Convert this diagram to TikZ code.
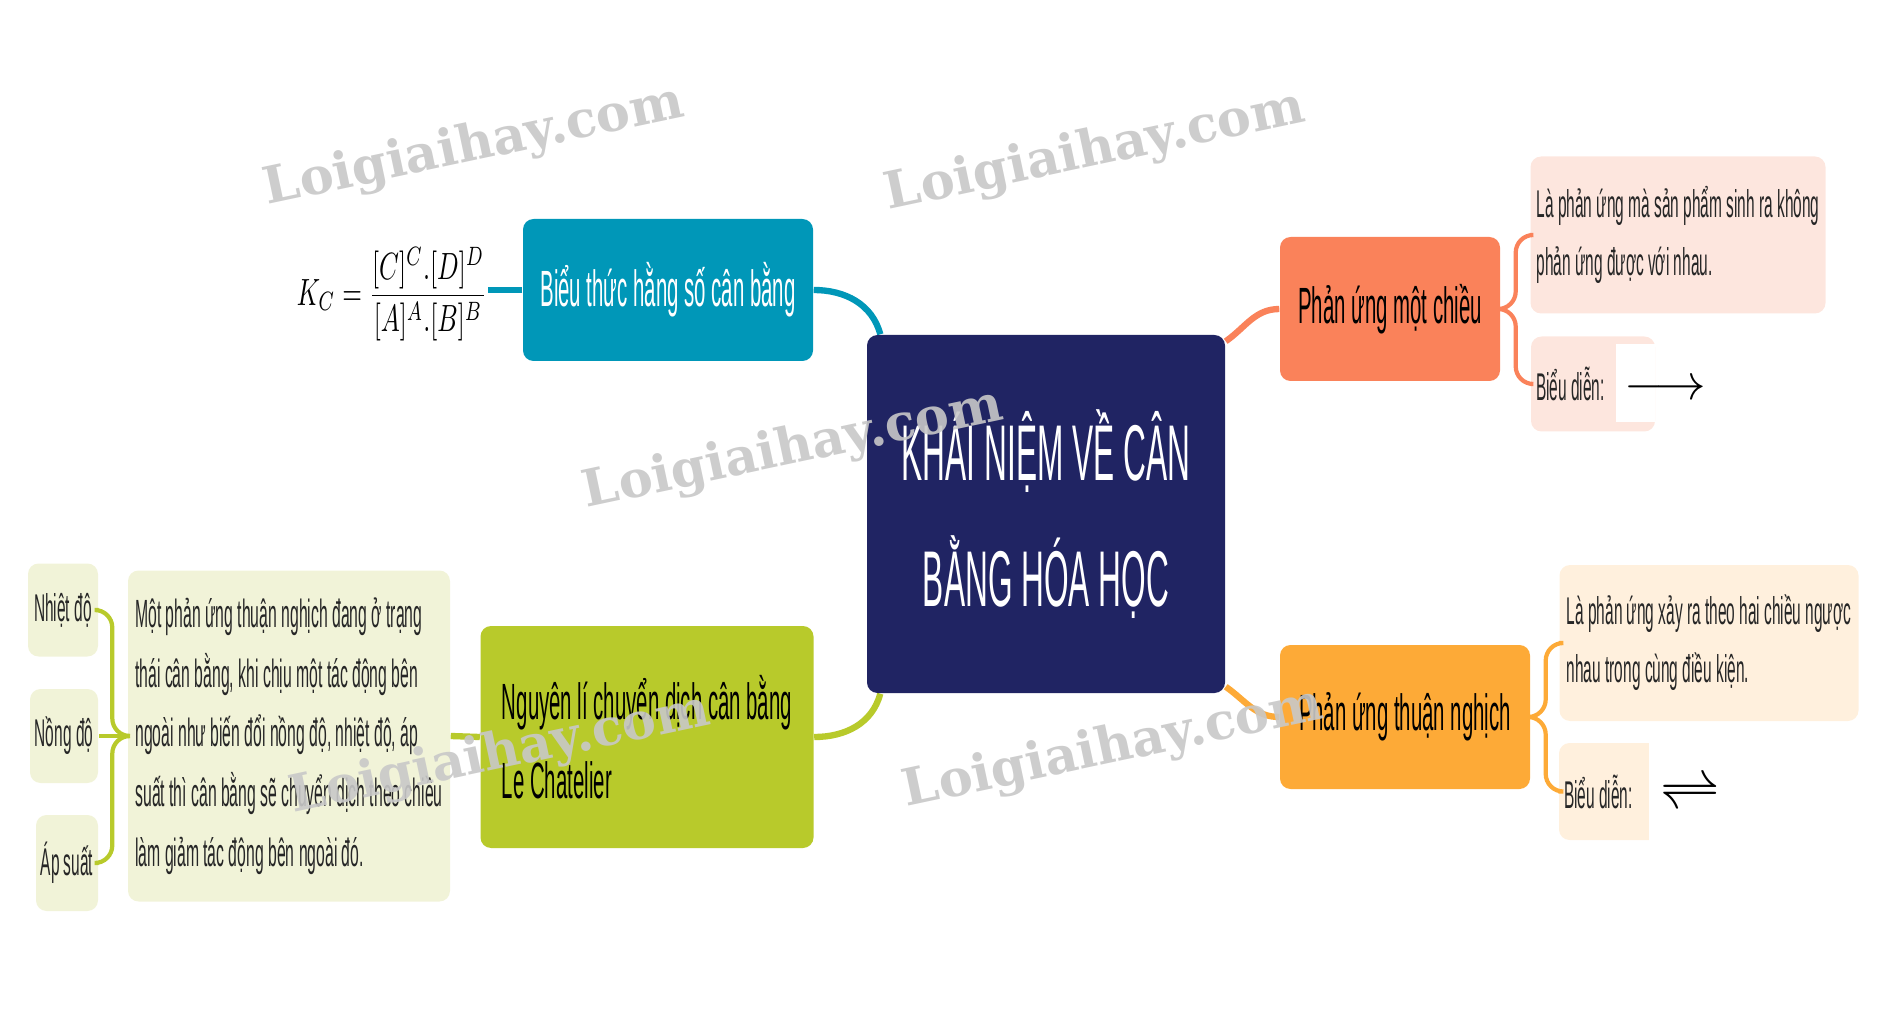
\documentclass[tikz,border=0pt]{standalone}
\usepackage{fontspec}
\setmainfont{Liberation Sans}[FakeStretch=0.4]
\newfontfamily\markfont{DejaVu Serif}
\usepackage{tikz}
\usetikzlibrary{positioning, calc, backgrounds}

\definecolor{navy}{RGB}{32,36,99}
\definecolor{tealbox}{RGB}{0,151,184}
\definecolor{limebox}{RGB}{184,202,43}
\definecolor{coralbox}{RGB}{250,130,90}
\definecolor{amberbox}{RGB}{253,170,55}
\definecolor{coralpale}{RGB}{253,230,222}
\definecolor{amberpale}{RGB}{255,240,221}
\definecolor{limepale}{RGB}{241,243,216}
\definecolor{markgray}{RGB}{200,200,200}

\tikzset{
  card/.style={rounded corners=3pt, inner sep=0pt},
  topic/.style={card, font=\fontsize{14.5}{22.5}\selectfont},
  leaf/.style={card, text=black!85, font=\fontsize{11}{16.5}\selectfont},
  link/.style={line width=1.8pt},
  brace/.style={line width=1.2pt, rounded corners=5pt},
  watermark/.style={text=markgray, text opacity=0.9, rotate=12,
    font=\markfont\bfseries\fontsize{14.5}{14.5}\selectfont}
}

\begin{document}
\begin{tikzpicture}
    \useasboundingbox (0,0) rectangle (18.8,10.3);

    % Central topic
    \node[card, fill=navy, text=white, minimum width=3.58cm, minimum height=3.58cm,
      align=center, font=\fontsize{22.5}{35.8}\selectfont] (main) at (10.46,5.16)
      {KHÁI NIỆM VỀ CÂN\\BẰNG HÓA HỌC};

    % Left branches
    \node[topic, fill=tealbox, text=white, minimum width=2.90cm, minimum height=1.42cm] (bieuthuc) at (6.68,7.40) {Biểu thức hằng số cân bằng};
    \node[inner sep=0pt] (formula) at (3.92,7.36)
      {\scalebox{0.72}[1.08]{$\displaystyle K_C=\frac{[C]^C.[D]^D}{[A]^A.[B]^B}$}};

    \node[topic, fill=limebox, text=black, minimum width=3.33cm, minimum height=2.22cm,
      align=left] (nguyenli) at (6.47,2.93)
      {Nguyên lí chuyển dịch cân bằng\\Le Chatelier};
    \node[leaf, fill=limepale, minimum width=3.22cm, minimum height=3.31cm,
      align=left, font=\fontsize{11.2}{17}\selectfont] (dinhnghia) at (2.89,2.94)
      {Một phản ứng thuận nghịch đang ở trạng\\thái cân bằng, khi chịu một tác động bên\\ngoài như biến đổi nồng độ, nhiệt độ, áp\\suất thì cân bằng sẽ chuyển dịch theo chiều\\làm giảm tác động bên ngoài đó.};
    \node[leaf, fill=limepale, minimum width=0.70cm, minimum height=0.93cm] (nhietdo) at (0.63,4.20) {Nhiệt độ};
    \node[leaf, fill=limepale, minimum width=0.68cm, minimum height=0.94cm] (nongdo) at (0.64,2.94) {Nồng độ};
    \node[leaf, fill=limepale, minimum width=0.62cm, minimum height=0.96cm] (apsuat) at (0.67,1.67) {Áp suất};

    % Right branches
    \node[topic, fill=coralbox, text=black, minimum width=2.20cm, minimum height=1.44cm] (motchieu) at (13.90,7.21) {Phản ứng một chiều};
    \node[leaf, fill=coralpale, minimum width=2.95cm, minimum height=1.57cm,
      align=left] (khainiem1) at (16.78,7.95)
      {Là phản ứng mà sản phẩm sinh ra không\\phản ứng được với nhau.};
    \node[leaf, fill=coralpale, minimum width=1.24cm, minimum height=0.95cm] (bieudien1) at (15.93,6.46)
      {\makebox[1.14cm][l]{Biểu diễn:}};
    \node[fill=white, inner sep=0pt, minimum width=0.39cm, minimum height=0.78cm] (khung1) at (16.355,6.47) {};
    \node[inner sep=0pt] (muiten1) at (16.65,6.40) {\fontsize{13.5}{13.5}\selectfont$\longrightarrow$};

    \node[topic, fill=amberbox, text=black, minimum width=2.50cm, minimum height=1.44cm] (thuannghich) at (14.05,3.13) {Phản ứng thuận nghịch};
    \node[leaf, fill=amberpale, minimum width=2.99cm, minimum height=1.56cm,
      align=left] (khainiem2) at (17.09,3.87)
      {Là phản ứng xảy ra theo hai chiều ngược\\nhau trong cùng điều kiện.};
    \node[leaf, fill=amberpale, minimum width=1.16cm, minimum height=0.97cm] (bieudien2) at (16.17,2.385)
      {\makebox[1.06cm][l]{Biểu diễn:}};
    \node[fill=white, inner sep=0pt, minimum width=0.82cm, minimum height=1.07cm] (khung2) at (16.90,2.385) {};
    \node[inner sep=0pt] (muiten2) at (16.90,2.36) {\fontsize{17.5}{17.5}\selectfont$\rightleftharpoons$};

    % Connectors
    \begin{scope}[on background layer]
      \draw[link, tealbox] (bieuthuc.east) to[out=0, in=105] ([xshift=0.14cm]main.north west);
      \draw[link, tealbox] (bieuthuc.west) -- (bieuthuc.west -| formula.east);
      \draw[link, limebox] (nguyenli.east) to[out=0, in=-105] ([xshift=0.14cm]main.south west);
      \draw[link, coralbox] ([yshift=-0.07cm]main.north east) to[out=35, in=180] (motchieu.west);
      \draw[link, amberbox] ([yshift=0.07cm]main.south east) to[out=-35, in=180] (thuannghich.west);
      \draw[link, limebox] (nguyenli.west) -- (dinhnghia.east);
    \end{scope}

    % Brackets
    \draw[brace, coralbox] (motchieu.east) -- ++(0.15,0) |- (khainiem1.west);
    \draw[brace, coralbox] (motchieu.east) -- ++(0.15,0) |- (bieudien1.west);
    \draw[brace, amberbox] (thuannghich.east) -- ++(0.15,0) |- (khainiem2.west);
    \draw[brace, amberbox] (thuannghich.east) -- ++(0.15,0) |- (bieudien2.west);
    \draw[brace, limebox] (dinhnghia.west) -- ++(-0.15,0) |- (nhietdo.east);
    \draw[brace, limebox] (dinhnghia.west) -- (nongdo.east);
    \draw[brace, limebox] (dinhnghia.west) -- ++(-0.15,0) |- (apsuat.east);

    % Watermarks
    \foreach \wx/\wy [count=\i] in {4.74/8.83, 10.95/8.78, 7.93/5.80, 5.00/2.75, 11.13/2.81}
      \node[watermark] (wm\i) at (\wx,\wy) {Loigiaihay.com};
\end{tikzpicture}
\end{document}
